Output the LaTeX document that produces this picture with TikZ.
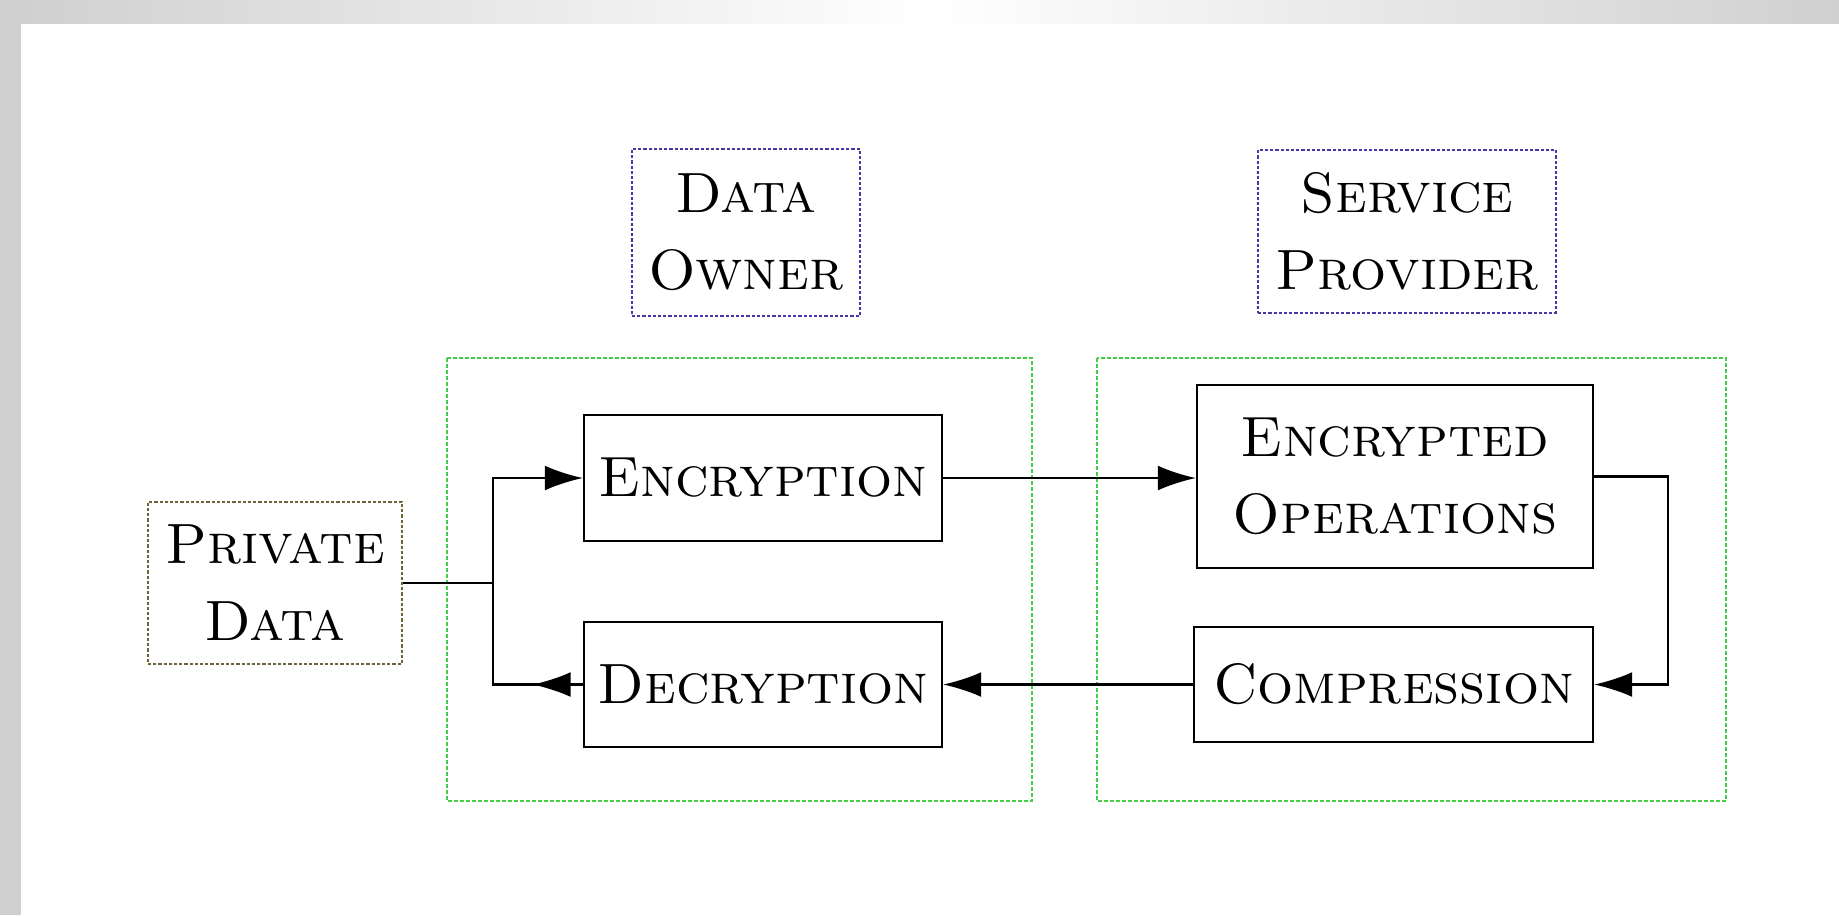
\documentclass[tikz,border=0pt]{standalone}
\usetikzlibrary{arrows.meta,calc}

\definecolor{bandgray}{RGB}{208,208,208}
\definecolor{ownerblue}{RGB}{70,55,170}
\definecolor{groupgreen}{RGB}{70,205,70}
\definecolor{dataolive}{RGB}{110,100,55}

\tikzset{
  labeltext/.style={font=\fontsize{14.2}{19.25}\selectfont\scshape, align=center, inner sep=0pt},
  procbox/.style={labeltext, draw=black, line width=0.55pt},
  rolebox/.style={labeltext, draw=ownerblue, line width=0.5pt, dash pattern=on 0.8pt off 0.5pt},
  sourcebox/.style={labeltext, draw=dataolive, line width=0.5pt, dash pattern=on 0.8pt off 0.5pt},
  groupframe/.style={draw=groupgreen, line width=0.45pt, dash pattern=on 0.9pt off 0.6pt},
  link/.style={line width=0.55pt},
  arr/.style={link, -{Latex[length=9.5pt,width=6.2pt]}}
}

\begin{document}
\begin{tikzpicture}[x=0.25pt,y=-0.25pt]
  \useasboundingbox (0,0) rectangle (1839,915);

  % window edge bands
  \fill[bandgray] (0,0) rectangle (21,915);
  \shade[left color=bandgray,right color=white] (21,0) rectangle (930,23);
  \shade[left color=white,right color=bandgray] (930,0) rectangle (1839,23);

  % party frames
  \draw[groupframe] (447,358) rectangle (1032,801);
  \draw[groupframe] (1097,358) rectangle (1726,801);

  % party labels
  \node[rolebox, minimum width=57pt, minimum height=41.75pt] (owner) at (746,232.5) {\raisebox{-1.2pt}{Data}\\\raisebox{-1.2pt}{Owner}};
  \node[rolebox, minimum width=74.5pt, minimum height=40.75pt] (provider) at (1407,231.5) {\raisebox{-1.2pt}{Service}\\\raisebox{-1.2pt}{Provider}};

  % input
  \node[sourcebox, minimum width=63.5pt, minimum height=40.5pt] (pd) at (275,583) {Private\\Data};

  % processing steps
  \node[procbox, minimum width=89.5pt, minimum height=31.5pt] (enc) at (763,478) {Encryption};
  \node[procbox, minimum width=89.5pt, minimum height=31.25pt] (dec) at (763,684.5) {Decryption};
  \node[procbox, minimum width=99pt, minimum height=45.75pt] (ops) at (1395,476.5) {\raisebox{-1pt}{Encrypted}\\\raisebox{-1pt}{Operations}};
  \node[procbox, minimum width=99.75pt, minimum height=28.75pt] (comp) at (1393.5,684.5) {Compression};

  % routing points
  \coordinate (jn) at (493,583);
  \coordinate (loop) at (1668,580);

  % connectors
  \draw[link] (pd.east) -- (jn);
  \draw[arr] (jn) |- (enc.west);
  \draw[link] (jn) |- (dec.west);
  \draw[arr] (dec.west) -- ($(dec.west)!0.56!(dec.west -| jn)$);
  \draw[arr] (enc.east) -- (ops.west |- enc.east);
  \draw[arr] (ops.east) -- (ops.east -| loop) |- (comp.east);
  \draw[arr] (comp.west) -- (dec.east);
\end{tikzpicture}
\end{document}
